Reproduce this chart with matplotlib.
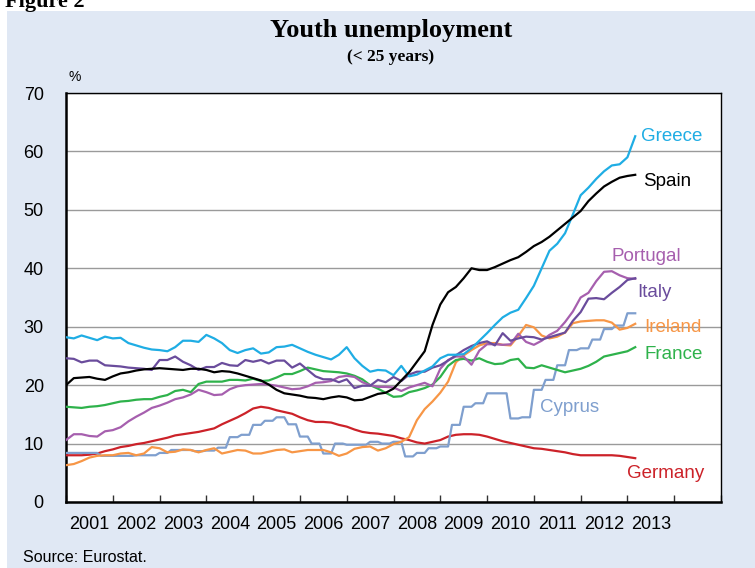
import numpy as np
import pandas as pd
import matplotlib
matplotlib.use("Agg")
import matplotlib.pyplot as plt
from matplotlib.patches import Rectangle

plt.rcParams['font.family'] = ['Liberation Sans', 'DejaVu Sans']

# bi-monthly observations from Jan 2001
dates = pd.date_range("2001-01-01", periods=74, freq="2MS")
t = dates.year + (dates.month - 1) / 12.0
# Cyprus is quarterly data shown monthly
months = pd.date_range("2001-01-01", periods=147, freq="MS")
tm = months.year + (months.month - 1) / 12.0

greece = [28.2, 28.0, 28.5, 28.1, 27.7, 28.3, 28.0, 28.1, 27.2, 26.8,
          26.4, 26.1, 26.0, 25.8, 26.5, 27.6, 27.6, 27.4, 28.6, 28.0,
          27.2, 26.0, 25.5, 26.0, 26.3, 25.4, 25.6, 26.5, 26.6, 26.9,
          26.3, 25.7, 25.2, 24.8, 24.4, 25.2, 26.5, 24.6, 23.3, 22.3,
          22.6, 22.5, 21.7, 23.3, 21.5, 21.8, 22.5, 23.2, 24.6, 25.2,
          25.2, 25.3, 26.3, 27.6, 28.9, 30.3, 31.6, 32.4, 32.9, 34.9,
          37.0, 40.0, 43.0, 44.2, 46.0, 49.2, 52.5, 53.8, 55.3, 56.6,
          57.6, 57.8, 59.0, 62.6]
spain = [20.0, 21.2, 21.3, 21.4, 21.1, 20.9, 21.5, 22.0, 22.2, 22.5,
         22.7, 22.8, 22.9, 22.8, 22.7, 22.6, 22.8, 22.8, 22.6, 22.2,
         22.4, 22.3, 22.0, 21.6, 21.2, 20.8, 20.1, 19.2, 18.6, 18.4,
         18.2, 17.9, 17.8, 17.6, 17.9, 18.1, 17.9, 17.4, 17.5, 18.0,
         18.5, 18.7, 19.4, 20.8, 22.2, 24.0, 25.8, 30.3, 33.8, 35.9,
         36.8, 38.3, 40.0, 39.7, 39.7, 40.2, 40.8, 41.4, 41.9, 42.8,
         43.8, 44.5, 45.4, 46.5, 47.6, 48.7, 49.8, 51.5, 52.8, 54.0,
         54.8, 55.5, 55.8, 56.0]
portugal = [10.6, 11.6, 11.6, 11.3, 11.2, 12.1, 12.3, 12.8, 13.8, 14.6,
            15.3, 16.1, 16.5, 17.0, 17.6, 17.9, 18.4, 19.2, 18.8, 18.3,
            18.4, 19.3, 19.8, 20.0, 20.1, 20.2, 20.1, 19.9, 19.6, 19.3,
            19.4, 19.8, 20.4, 20.5, 20.7, 21.4, 21.6, 21.4, 20.5, 20.0,
            19.7, 19.7, 19.6, 19.0, 19.6, 20.0, 20.4, 19.8, 22.8, 24.3,
            24.9, 24.9, 23.5, 25.9, 27.0, 27.0, 26.9, 27.0, 28.8, 27.4,
            26.9, 27.6, 28.6, 29.3, 30.8, 32.6, 35.0, 35.8, 37.8, 39.4,
            39.5, 38.8, 38.3, 38.2]
italy = [24.6, 24.5, 23.9, 24.2, 24.2, 23.4, 23.3, 23.2, 23.0, 22.9,
         22.8, 22.6, 24.3, 24.3, 24.9, 24.0, 23.4, 22.6, 23.1, 23.1,
         23.8, 23.4, 23.3, 24.3, 24.0, 24.3, 23.7, 24.2, 24.2, 23.0,
         23.7, 22.6, 21.5, 21.0, 21.0, 20.5, 21.0, 19.5, 19.9, 19.9,
         20.9, 20.5, 21.4, 20.7, 21.8, 22.3, 22.3, 23.0, 23.4, 24.2,
         25.1, 26.0, 26.7, 27.2, 27.5, 26.8, 28.9, 27.6, 28.0, 28.3,
         28.2, 27.8, 28.2, 28.6, 29.0, 31.0, 32.5, 34.8, 34.9, 34.7,
         35.8, 36.8, 38.0, 38.3]
ireland = [6.3, 6.5, 7.0, 7.6, 7.9, 8.0, 8.0, 8.3, 8.4, 8.0,
           8.3, 9.4, 9.2, 8.5, 8.6, 9.0, 8.9, 8.5, 8.9, 9.2,
           8.3, 8.6, 8.9, 8.8, 8.3, 8.3, 8.6, 8.9, 9.0, 8.5,
           8.7, 8.9, 8.9, 8.9, 8.5, 7.9, 8.3, 9.1, 9.4, 9.5,
           8.8, 9.2, 9.9, 10.3, 11.1, 14.0, 15.9, 17.2, 18.7, 20.6,
           23.9, 25.1, 26.0, 26.8, 27.2, 27.2, 26.9, 26.8, 28.4, 30.3,
           29.9, 28.5, 28.0, 28.3, 29.0, 30.6, 30.9, 31.0, 31.1, 31.1,
           30.7, 29.5, 29.8, 30.5]
france = [16.3, 16.2, 16.1, 16.3, 16.4, 16.6, 16.9, 17.2, 17.3, 17.5,
          17.6, 17.6, 18.0, 18.3, 19.0, 19.2, 18.8, 20.2, 20.6, 20.6,
          20.6, 20.9, 20.9, 20.8, 21.1, 20.7, 20.8, 21.3, 21.9, 21.9,
          22.4, 23.0, 22.7, 22.4, 22.3, 22.2, 22.0, 21.6, 21.0, 20.0,
          19.4, 18.7, 18.0, 18.1, 18.8, 19.1, 19.5, 20.1, 21.4, 23.3,
          24.3, 24.5, 24.2, 24.6, 24.0, 23.6, 23.7, 24.3, 24.5, 23.0,
          22.9, 23.4, 23.0, 22.6, 22.2, 22.5, 22.8, 23.3, 24.0, 24.9,
          25.2, 25.5, 25.8, 26.5]
germany = [8.0, 8.0, 8.0, 8.1, 8.3, 8.7, 9.0, 9.4, 9.6, 9.9,
           10.1, 10.4, 10.7, 11.0, 11.4, 11.6, 11.8, 12.0, 12.3, 12.6,
           13.3, 13.9, 14.5, 15.2, 16.0, 16.3, 16.1, 15.7, 15.4, 15.1,
           14.5, 14.0, 13.7, 13.7, 13.6, 13.2, 12.9, 12.4, 12.0, 11.8,
           11.7, 11.5, 11.3, 10.9, 10.6, 10.2, 10.0, 10.3, 10.6, 11.2,
           11.5, 11.6, 11.6, 11.5, 11.2, 10.8, 10.4, 10.1, 9.8, 9.5,
           9.2, 9.1, 8.9, 8.7, 8.5, 8.2, 8.0, 8.0, 8.0, 8.0,
           8.0, 7.9, 7.7, 7.5]
cyprus_q = [8.4, 8.4, 8.4, 7.9, 7.9, 7.9, 8.0, 8.0, 8.4, 8.9, 8.9, 8.7,
            8.8, 9.3, 11.1, 11.5, 13.2, 13.9, 14.5, 13.3, 11.2, 10.0, 8.3, 10.0,
            9.8, 9.8, 10.3, 10.0, 10.3, 7.8, 8.4, 9.2, 9.5, 13.2, 16.3, 16.9,
            18.6, 18.6, 14.3, 14.5, 19.2, 20.9, 23.4, 26.0, 26.3, 27.8, 29.6, 30.2,
            32.3]
cyprus = np.repeat(cyprus_q, 3)

years = list(range(2001, 2016))
year_labels = [str(y) for y in range(2001, 2014)]

fig = plt.figure(figsize=(7.55, 5.68), dpi=100)
fig.patches.append(Rectangle((7 / 755, 0), 1, 1 - 11 / 568, transform=fig.transFigure,
                             facecolor='#E0E8F4', edgecolor='none', zorder=-10))
fig.text(5 / 755, 1 - 7 / 568, 'Figure 2', family='Liberation Serif', weight='bold',
         fontsize=16, va='baseline', ha='left')
fig.text(391 / 755, 1 - 31 / 568, 'Youth unemployment', family='Liberation Serif',
         weight='bold', fontsize=19, ha='center', va='center')
fig.text(391 / 755, 1 - 57 / 568, '(< 25 years)', family='Liberation Serif',
         weight='bold', fontsize=12.5, ha='center', va='center')
fig.text(23 / 755, 1 - 557 / 568, 'Source: Eurostat.', fontsize=11.5, ha='left', va='center')
fig.text(75 / 755, 1 - 77 / 568, '%', fontsize=10, ha='center', va='center')

ax = fig.add_axes([66 / 755, 1 - 502 / 568, 655 / 755, 409 / 568])
ax.set_facecolor('white')

series = [
    (germany, t, '#CC2229'),
    (cyprus, tm, '#7F9FCE'),
    (ireland, t, '#F79646'),
    (france, t, '#2EB24B'),
    (portugal, t, '#A65FAE'),
    (italy, t, '#6A4C9C'),
    (greece, t, '#1FADE4'),
    (spain, t, 'black'),
]
for vals, x, col in series:
    ax.plot(x[:len(vals)], vals, color=col, lw=1.6, zorder=3)

labels = [
    ('Greece', 2013.29, 62.6, '#1FADE4'),
    ('Spain', 2013.33, 54.9, 'black'),
    ('Portugal', 2012.65, 42.1, '#A65FAE'),
    ('Italy', 2013.22, 35.9, '#6A4C9C'),
    ('Ireland', 2013.37, 29.8, '#F79646'),
    ('France', 2013.37, 25.2, '#2EB24B'),
    ('Cyprus', 2011.13, 16.1, '#7F9FCE'),
    ('Germany', 2012.99, 4.8, '#CC2229'),
]
for name, x, y, col in labels:
    ax.text(x, y, name, color=col, fontsize=13.5, ha='left', va='center')

ax.set_xlim(2001, 2015)
ax.set_ylim(0, 70)
ax.set_yticks(range(0, 80, 10))
ax.yaxis.grid(True, color='#9A9A9A', lw=1.0, zorder=1)
ax.tick_params(axis='y', length=0, pad=16, labelsize=13)
ax.set_xticks(years)
ax.set_xticklabels([])
ax.set_xticks([y + 0.5 for y in range(2001, 2014)], minor=True)
ax.set_xticklabels(year_labels, minor=True)
ax.tick_params(axis='x', which='major', direction='in', length=5, width=1, color='#333333')
ax.tick_params(axis='x', which='minor', length=0, pad=10, labelsize=13)

for s in ['left', 'bottom']:
    ax.spines[s].set_linewidth(1.8)
for s in ['top', 'right']:
    ax.spines[s].set_linewidth(1.0)

fig.savefig('out.png', dpi=100)
